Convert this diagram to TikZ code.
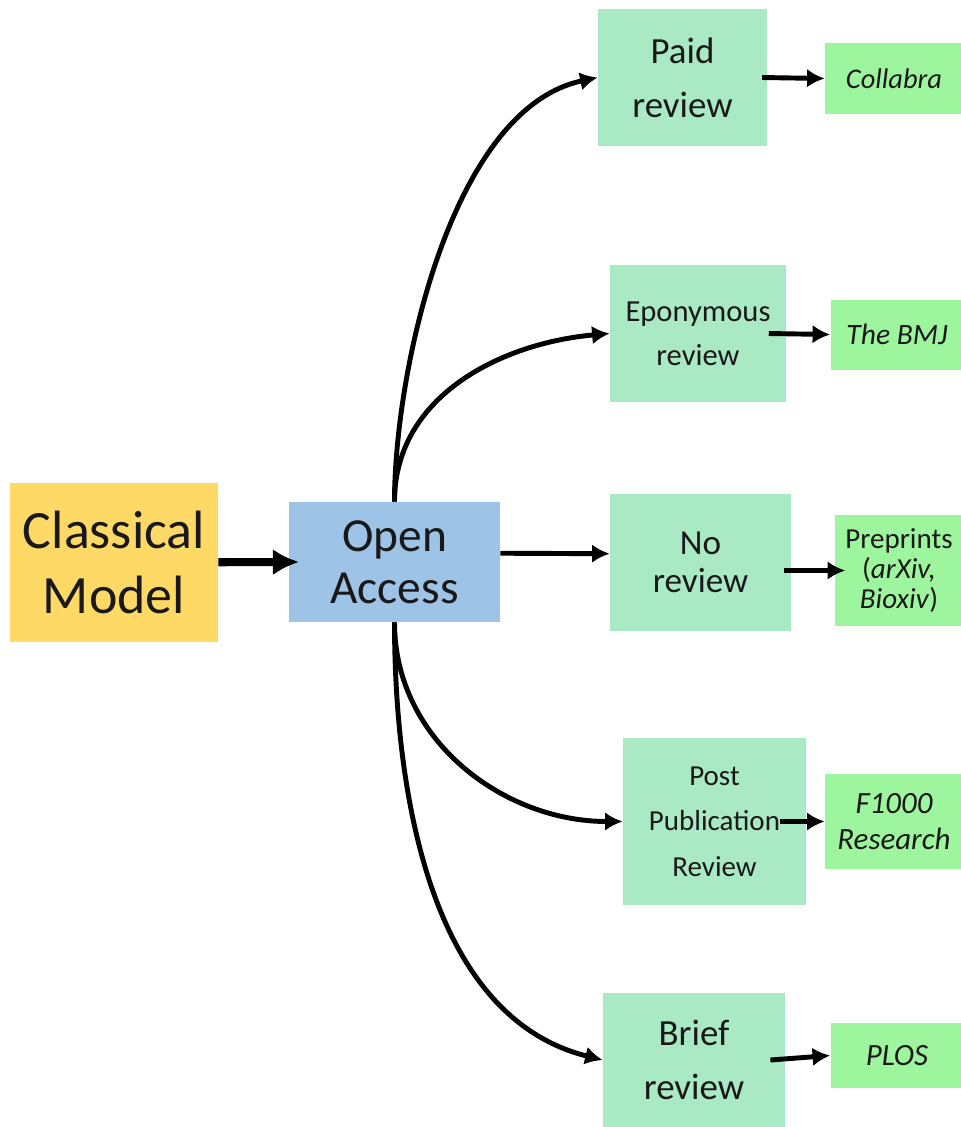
\documentclass[tikz,border=0pt]{standalone}
\usepackage{fontspec}
\setmainfont{Carlito}
\usetikzlibrary{arrows.meta}
\definecolor{classicgold}{HTML}{FED966}
\definecolor{openblue}{HTML}{9DC3E6}
\definecolor{reviewgreen}{HTML}{A9E9C4}
\definecolor{journalgreen}{HTML}{9DF59D}

\begin{document}
\begin{tikzpicture}[x=0.02cm, y=-0.02cm,
    box/.style={inner sep=0pt, align=center, text=black!90},
    review/.style={box, fill=reviewgreen},
    journal/.style={box, fill=journalgreen},
    link/.style={line width=2.8pt, -{Latex[length=10pt,width=10.5pt]}}]
  \useasboundingbox (0,0) rectangle (961,1127);

  \node[box, fill=classicgold, minimum width=4.16cm, minimum height=3.18cm, font=\fontsize{30.7}{37}\selectfont] (classical) at (114,562.5) {Classical\\Model};
  \node[box, fill=openblue, minimum width=4.22cm, minimum height=2.4cm, font=\fontsize{27}{29.6}\selectfont] (open) at (394.5,562) {Open\\Access};

  % review types
  \node[review, minimum width=3.38cm, minimum height=2.74cm, font=\fontsize{21}{30.7}\selectfont] (paid) at (682.5,77.5) {Paid\\review};
  \node[review, minimum width=3.52cm, minimum height=2.74cm, font=\fontsize{17.4}{25}\selectfont] (epon) at (698,333.5) {Eponymous\\review};
  \node[review, minimum width=3.62cm, minimum height=2.74cm, font=\fontsize{20}{22}\selectfont] (noreview) at (700.5,562.5) {No\\review};
  \node[review, minimum width=3.66cm, minimum height=3.34cm, font=\fontsize{16.5}{26}\selectfont] (post) at (714.5,821.5) {Post\\Publication\\Review};
  \node[review, minimum width=3.64cm, minimum height=2.7cm, font=\fontsize{21}{30.7}\selectfont] (brief) at (694,1060) {Brief\\review};

  % journals
  \node[journal, minimum width=2.76cm, minimum height=1.42cm, font=\fontsize{16.2}{19}\selectfont\itshape] (collabra) at (894,78.5) {Collabra};
  \node[journal, minimum width=2.66cm, minimum height=1.4cm, font=\fontsize{16.8}{19}\selectfont\itshape] (bmj) at (897,334.5) {The BMJ};
  \node[journal, minimum width=2.56cm, minimum height=2.22cm, font=\fontsize{16.5}{17.2}\selectfont] (preprints) at (899,570.5) {Preprints\\(\textit{arXiv,}\\\textit{Bioxiv})};
  \node[journal, minimum width=2.76cm, minimum height=1.9cm, font=\fontsize{17.6}{20.5}\selectfont\itshape] (f1000) at (894,821.5) {F1000\\Research};
  \node[journal, minimum width=2.66cm, minimum height=1.3cm, font=\fontsize{17.6}{20}\selectfont\itshape] (plos) at (897,1055.5) {PLOS};

  \draw[link, line width=4.6pt, -{Latex[length=15pt,width=15pt]}] (classical) -- ([xshift=6pt]open.west);

  \draw[link] (open.north) to[out=90, in=192, out distance=2.6cm, in distance=3cm] (paid.west);
  \draw[link] (open.north) to[out=90, in=185] (epon.west);
  \draw[link] ([yshift=5pt]open.east) -- ([yshift=5pt]noreview.west);
  \draw[link] (open.south) to[out=-90, in=180] (post.west);
  \draw[link] (open.south) to[out=-90, in=166, out distance=2.8cm] (brief.west);

  \draw[link] ([xshift=-3pt]paid.east) -- (collabra.west);
  \draw[link] ([xshift=-10pt]epon.east) -- (bmj.west);
  \draw[link] ([xshift=-4pt]noreview.east |- preprints.west) -- ([xshift=6pt]preprints.west);
  \draw[link] ([xshift=-15pt]post.east) -- (f1000.west);
  \draw[link] ([xshift=-8.5pt]brief.east) -- (plos.west);
\end{tikzpicture}
\end{document}
